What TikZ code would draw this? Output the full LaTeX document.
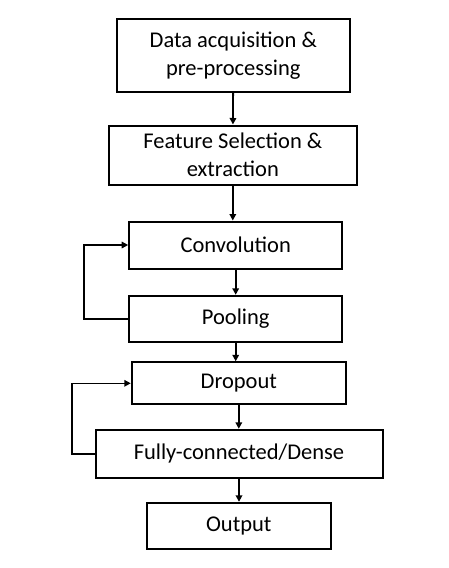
\documentclass[tikz,border=0pt]{standalone}
\usepackage{fontspec}
\setmainfont{Carlito}
\usetikzlibrary{arrows.meta}

\begin{document}
\begin{tikzpicture}[x=1pt,y=-1pt,
  stage/.style={draw,line width=2pt,inner sep=0pt,align=center,
    font=\fontsize{22.5}{27.5}\selectfont},
  flow/.style={line width=1.8pt,-{Triangle[length=6.5pt,width=6.5pt]}}]
  \useasboundingbox (0,0) rectangle (449,568);
  % Stages
  \node[stage,minimum width=233pt,minimum height=73pt] (acq) at (233.3,55.5)
    {Data acquisition \&\\pre-processing};
  \node[stage,minimum width=248pt,minimum height=59pt] (fse) at (232.8,155)
    {Feature Selection \&\\extraction};
  \node[stage,minimum width=213pt,minimum height=47pt] (conv) at (235.7,245)
    {Convolution};
  \node[stage,minimum width=213pt,minimum height=46pt] (pool) at (235.7,318.8)
    {Pooling};
  \node[stage,minimum width=214pt,minimum height=42pt] (drop) at (238.8,383.3)
    {Dropout};
  \node[stage,minimum width=287pt,minimum height=48pt] (fc) at (239,453.8)
    {Fully-connected/Dense};
  \node[stage,minimum width=184pt,minimum height=46pt] (out) at (238.8,525.8)
    {Output};
  % Forward arrows
  \draw[flow] (acq) -- (fse);
  \draw[flow] (fse.south) -- (fse.south |- conv.north);
  \draw[flow] (conv.south) -- (conv.south |- pool.north);
  \draw[flow] (pool.south) -- (pool.south |- drop.north);
  \draw[flow] (drop.south) -- (drop.south |- fc.north);
  \draw[flow] (fc.south) -- (fc.south |- out.north);
  % Feedback loops
  \draw[flow,line width=1.5pt] (pool.west) -- ++(-44,0) |- (conv.west);
  \draw[flow,line width=1.5pt] (fc.west) -- ++(-22.4,0) |- (drop.west);
\end{tikzpicture}
\end{document}
